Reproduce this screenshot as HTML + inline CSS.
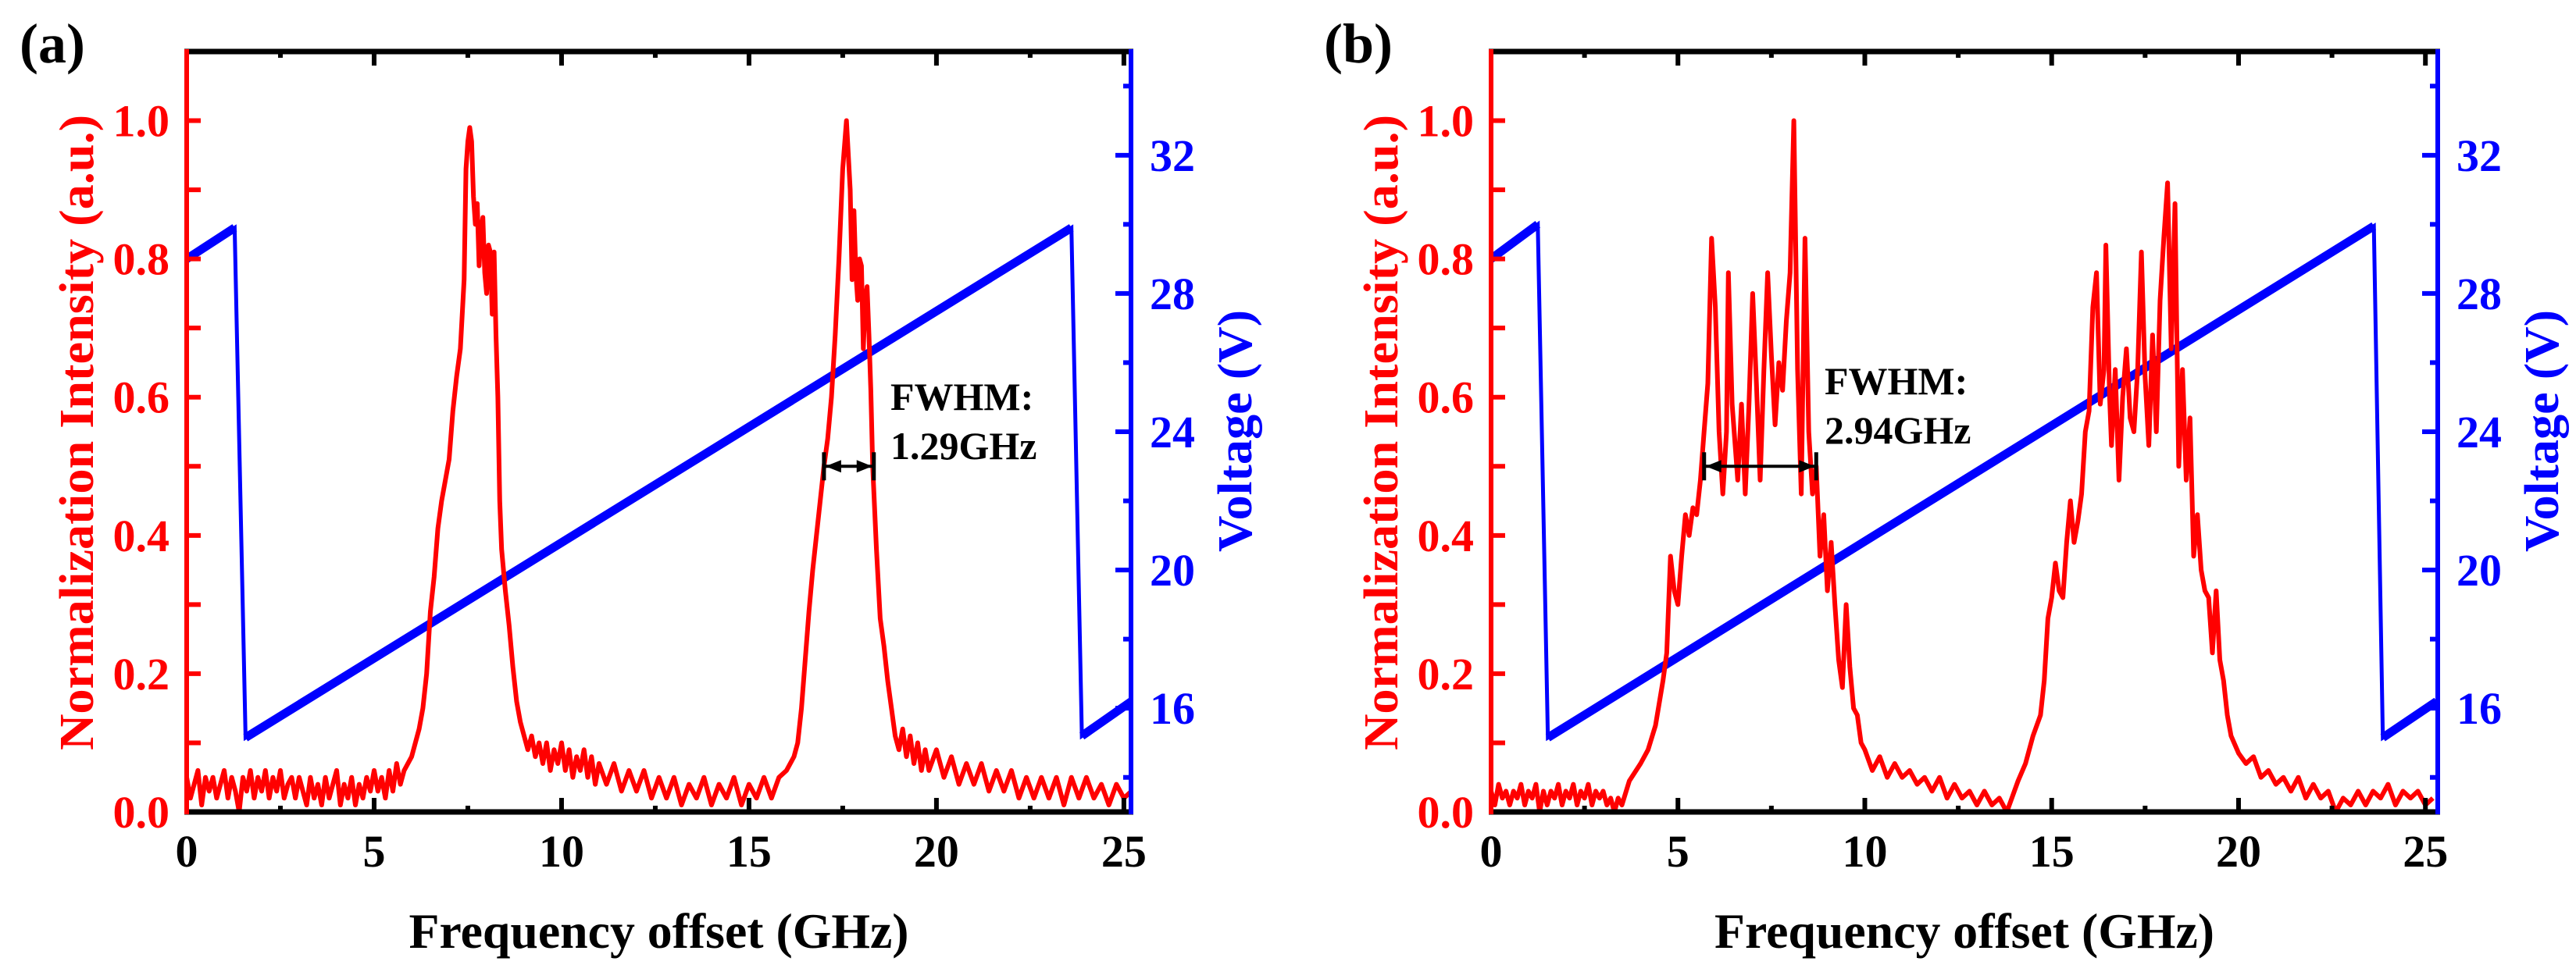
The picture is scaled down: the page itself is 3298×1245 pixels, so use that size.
<!DOCTYPE html>
<html><head><meta charset="utf-8">
<style>
html,body{margin:0;padding:0;background:#fff;}
svg{display:block;}
svg text{font-family:"Liberation Serif","Times New Roman",serif !important;font-weight:bold;}
</style></head>
<body>
<svg id="fig" width="3298" height="1245" viewBox="0 0 3298 1245" xmlns="http://www.w3.org/2000/svg" font-family="Liberation Serif, serif" font-weight="bold"></svg>
<script>
// ---------- data ----------
const xTicks = [0,5,10,15,20,25];
const xTickLabels = ["0","5","10","15","20","25"];
const yTicks = [0,0.2,0.4,0.6,0.8,1.0];
const yTickLabels = ["0.0","0.2","0.4","0.6","0.8","1.0"];
const vTicks = [16,20,24,28,32];
const vTickLabels = ["16","20","24","28","32"];

const freqA = [0,0.1,0.2,0.3,0.4,0.5,0.6,0.7,0.8,0.9,1.0,1.1,1.2,1.3,1.4,1.5,1.6,1.7,1.8,1.9,2.0,2.1,2.2,2.3,2.4,2.5,2.6,2.7,2.8,2.9,3.0,3.1,3.2,3.3,3.4,3.5,3.6,3.7,3.8,3.9,4.0,4.1,4.2,4.3,4.4,4.5,4.6,4.7,4.8,4.9,5.0,5.1,5.2,5.3,5.4,5.5,5.6,5.7,5.8,
6.0,6.2,6.3,6.4,6.5,6.6,6.7,6.8,6.9,7.0,7.1,7.2,7.3,7.4,7.45,7.5,7.55,7.6,7.65,7.7,7.75,7.8,7.85,7.9,7.95,8.0,8.05,8.1,8.15,8.2,8.25,8.3,8.35,8.4,8.5,8.6,8.7,8.8,8.9,9.0,9.1,9.2,9.3,9.4,9.5,9.6,9.7,9.8,9.9,10.0,10.1,10.2,10.3,10.4,10.5,10.6,10.7,10.8,10.9,11.0,11.2,11.4,11.6,11.8,12.0,12.2,12.4,12.6,12.8,13.0,13.2,13.4,13.6,13.8,14.0,14.2,14.4,14.6,14.8,15.0,15.2,15.4,15.6,15.8,16.0,16.2,16.3,16.4,16.5,16.6,16.7,16.8,16.9,17.0,17.1,17.2,17.3,17.4,17.5,17.6,17.65,17.7,17.75,17.8,17.85,17.9,17.95,18.0,18.05,18.1,18.15,18.2,18.25,18.3,18.4,18.5,18.6,18.7,18.8,18.9,19.0,19.1,19.2,19.3,19.4,19.5,19.6,19.7,19.8,20.0,20.2,20.4,20.6,20.8,21.0,21.2,21.4,21.6,21.8,22.0,22.2,22.4,22.6,22.8,23.0,23.2,23.4,23.6,23.8,24.0,24.2,24.4,24.6,24.8,25.0,25.2];
const intensityA = [0.05,0.02,0.04,0.06,0.01,0.05,0.03,0.05,0.02,0.04,0.06,0.02,0.05,0.03,0.00,0.05,0.03,0.06,0.02,0.05,0.03,0.06,0.02,0.05,0.03,0.06,0.02,0.04,0.05,0.02,0.05,0.03,0.01,0.05,0.02,0.04,0.01,0.05,0.02,0.04,0.06,0.01,0.04,0.02,0.05,0.01,0.04,0.02,0.05,0.03,0.06,0.03,0.05,0.02,0.06,0.03,0.07,0.04,0.06,
0.08,0.12,0.15,0.20,0.29,0.34,0.41,0.45,0.48,0.51,0.58,0.63,0.67,0.77,0.93,0.97,0.99,0.97,0.89,0.85,0.88,0.79,0.84,0.86,0.78,0.75,0.82,0.81,0.72,0.81,0.69,0.60,0.45,0.38,0.32,0.27,0.21,0.16,0.13,0.11,0.09,0.11,0.08,0.10,0.07,0.10,0.06,0.09,0.07,0.10,0.06,0.09,0.05,0.08,0.06,0.09,0.05,0.08,0.04,0.07,0.04,0.07,0.03,0.06,0.03,0.06,0.02,0.05,0.02,0.05,0.01,0.04,0.02,0.05,0.01,0.04,0.02,0.05,0.01,0.04,0.02,0.05,0.02,0.05,0.06,0.08,0.10,0.15,0.22,0.29,0.35,0.40,0.45,0.50,0.54,0.60,0.69,0.80,0.93,1.00,0.95,0.90,0.77,0.87,0.78,0.74,0.80,0.79,0.67,0.74,0.76,0.69,0.61,0.50,0.38,0.28,0.24,0.19,0.15,0.11,0.09,0.12,0.08,0.11,0.07,0.10,0.06,0.09,0.06,0.09,0.05,0.08,0.04,0.07,0.04,0.07,0.03,0.06,0.03,0.06,0.02,0.05,0.02,0.05,0.02,0.05,0.01,0.05,0.02,0.05,0.02,0.04,0.01,0.04,0.02,0.03];

const freqB = [0,0.1,0.2,0.3,0.4,0.5,0.6,0.7,0.8,0.9,1.0,1.1,1.2,1.3,1.4,1.5,1.6,1.7,1.8,1.9,2.0,2.1,2.2,2.3,2.4,2.5,2.6,2.7,2.8,2.9,3.0,3.1,3.2,3.3,3.4,3.5,
3.7,4.0,4.2,4.4,4.6,4.7,4.8,4.9,5.0,5.1,5.2,5.3,5.4,5.5,5.6,5.7,5.8,5.9,6.0,6.1,6.2,6.3,6.35,6.45,6.6,6.7,6.8,6.9,7.0,7.1,7.2,7.3,7.4,7.5,7.6,7.7,7.8,7.9,8.0,8.1,8.2,8.3,8.4,8.5,8.6,8.7,8.8,8.9,9.0,9.1,9.2,9.3,9.4,9.5,9.6,9.7,9.8,9.9,
10.0,10.2,10.4,10.6,10.8,11.0,11.2,11.4,11.6,11.8,12.0,12.2,12.4,12.6,12.8,13.0,13.2,13.4,13.6,13.8,
14.1,14.3,14.5,14.7,14.8,14.9,15.0,15.1,15.2,15.3,15.4,15.5,15.6,15.7,15.8,15.9,16.0,16.1,16.2,16.3,16.4,16.45,16.55,16.6,16.7,16.8,16.9,17.0,17.1,17.2,17.3,17.4,17.5,17.6,17.7,17.8,17.9,18.0,18.1,18.2,18.3,18.4,18.5,18.6,18.7,18.8,18.9,19.0,19.1,19.2,19.3,19.4,19.5,19.6,19.7,19.8,
20.0,20.2,20.4,20.6,20.8,21.0,21.2,21.4,21.6,21.8,22.0,22.2,22.4,22.6,22.8,23.0,23.2,23.4,23.6,23.8,24.0,24.2,24.4,24.6,24.8,25.0,25.2];
const intensityB = [0.03,0.01,0.04,0.02,0.03,0.01,0.03,0.02,0.04,0.01,0.03,0.02,0.04,0.00,0.03,0.01,0.03,0.02,0.04,0.01,0.03,0.02,0.04,0.01,0.03,0.02,0.04,0.01,0.03,0.02,0.03,0.01,0.02,0.00,0.02,0.01,
0.045,0.07,0.09,0.125,0.19,0.23,0.37,0.32,0.30,0.37,0.43,0.40,0.44,0.43,0.48,0.55,0.62,0.83,0.73,0.55,0.46,0.55,0.78,0.59,0.48,0.59,0.46,0.59,0.75,0.62,0.48,0.64,0.78,0.66,0.56,0.65,0.61,0.71,0.78,1.00,0.64,0.46,0.83,0.55,0.46,0.50,0.37,0.43,0.32,0.39,0.30,0.22,0.18,0.30,0.21,0.15,0.14,0.10,
0.09,0.06,0.08,0.05,0.07,0.05,0.06,0.04,0.05,0.03,0.05,0.02,0.04,0.02,0.03,0.01,0.03,0.01,0.02,0.00,
0.045,0.07,0.11,0.14,0.19,0.28,0.31,0.36,0.32,0.31,0.39,0.45,0.39,0.42,0.46,0.55,0.58,0.73,0.78,0.59,0.64,0.82,0.60,0.53,0.64,0.48,0.60,0.67,0.57,0.55,0.64,0.81,0.63,0.53,0.69,0.55,0.74,0.83,0.91,0.67,0.88,0.50,0.64,0.48,0.57,0.37,0.43,0.35,0.32,0.31,0.23,0.32,0.22,0.19,0.14,0.11,
0.085,0.07,0.08,0.05,0.06,0.04,0.05,0.03,0.05,0.02,0.04,0.02,0.03,0.00,0.02,0.01,0.03,0.01,0.03,0.02,0.04,0.01,0.03,0.02,0.03,0.01,0.02];

const voltFreqA = [0,1.28,1.57,23.6,23.88,25.2];
const voltA = [29.0,29.9,15.15,29.9,15.2,16.2];
const voltFreqB = [0,1.25,1.52,23.62,23.86,25.3];
const voltB = [29.0,30.0,15.15,29.95,15.15,16.2];

// ---------- drawing ----------
const NS = "http://www.w3.org/2000/svg";
const svg = document.getElementById('fig');
const FONT = "'Liberation Serif', 'Times New Roman', serif";
function mk(tag, attrs, parent){
  const e = document.createElementNS(NS, tag);
  for (const k in attrs) e.setAttribute(k, attrs[k]);
  if (tag === 'text') { e.setAttribute('font-family', FONT); e.setAttribute('font-weight', 'bold'); }
  (parent||svg).appendChild(e);
  return e;
}
const TOP = 66, BOT = 1040;
const YMAX = 1.1, VMIN = 13, VMAX = 35;

function drawPanel(id, L, R, xmax, freq, inten, vf, vv, label, fwhm){
  const g = mk('g', {});
  
  
  const sx = f => L + f / xmax * (R - L);
  const sy = v => BOT - v / YMAX * (BOT - TOP);
  const sv = v => BOT - (v - VMIN) / (VMAX - VMIN) * (BOT - TOP);

  const cid = 'clip-' + id;
  const cp = mk('clipPath', {id: cid}, g);
  mk('rect', {x: L, y: TOP, width: R - L, height: BOT - TOP}, cp);

  // blue voltage
  const vPts = vf.map((f, i) => sx(f).toFixed(1) + ',' + sv(vv[i]).toFixed(1)).join(' ');
  const vl = mk('polyline', {points: vPts, fill: 'none', stroke: '#0000ff', 'stroke-width': 5, 'clip-path': 'url(#' + cid + ')'}, g);
  
  
  for (let i = 0; i < vf.length - 1; i++) {
    if (vv[i + 1] > vv[i]) {
      const seg = mk('line', {x1: sx(vf[i]), y1: sv(vv[i]), x2: sx(vf[i + 1]), y2: sv(vv[i + 1]), stroke: '#0000ff', 'stroke-width': 11, 'clip-path': 'url(#' + cid + ')'}, g);
      
      
    }
  }
  // red intensity
  const rPts = freq.map((f, i) => sx(f).toFixed(1) + ',' + sy(inten[i]).toFixed(1)).join(' ');
  const rl = mk('polyline', {points: rPts, fill: 'none', stroke: '#ff0000', 'stroke-width': 6, 'stroke-linejoin': 'round', 'clip-path': 'url(#' + cid + ')'}, g);
  
  

  // ticks x
  for (let f = 0; f <= xmax + 0.01; f += 2.5) {
    const major = Math.abs(f / 5 - Math.round(f / 5)) < 1e-6;
    const len = major ? 18 : 8;
    mk('line', {x1: sx(f), y1: BOT, x2: sx(f), y2: BOT - len, stroke: '#000', 'stroke-width': 6}, g);
    mk('line', {x1: sx(f), y1: TOP, x2: sx(f), y2: TOP + len, stroke: '#000', 'stroke-width': 6}, g);
  }
  xTicks.forEach((t, i) => {
    const tx = mk('text', {x: sx(t), y: 1110, 'font-size': 58, 'text-anchor': 'middle', fill: '#000'}, g);
    tx.textContent = xTickLabels[i];
    
    
  });
  // left ticks
  for (let v = 0; v <= 1.1001; v += 0.1) {
    mk('line', {x1: L, y1: sy(v), x2: L + 18, y2: sy(v), stroke: '#ff0000', 'stroke-width': 6}, g);
  }
  yTicks.forEach((t, i) => {
    const tx = mk('text', {x: L - 22, y: sy(t) + 20, 'font-size': 58, 'text-anchor': 'end', fill: '#ff0000'}, g);
    tx.textContent = yTickLabels[i];
    
    
  });
  // right ticks
  for (let v = 14; v <= 34; v += 2) {
    const major = v % 4 === 0;
    mk('line', {x1: R, y1: sv(v), x2: R - (major ? 20 : 10), y2: sv(v), stroke: '#0000ff', 'stroke-width': 6}, g);
  }
  vTicks.forEach((t, i) => {
    const tx = mk('text', {x: R + 24, y: sv(t) + 20, 'font-size': 58, 'text-anchor': 'start', fill: '#0000ff'}, g);
    tx.textContent = vTickLabels[i];
    
    
  });
  // spines
  mk('line', {x1: L - 3, y1: TOP, x2: R + 3, y2: TOP, stroke: '#000', 'stroke-width': 7}, g);
  mk('line', {x1: L - 3, y1: BOT, x2: R + 3, y2: BOT, stroke: '#000', 'stroke-width': 7}, g);
  const ls = mk('line', {x1: L, y1: TOP - 3, x2: L, y2: BOT + 3, stroke: '#ff0000', 'stroke-width': 6}, g);
  
  
  const rs = mk('line', {x1: R, y1: TOP - 3, x2: R, y2: BOT + 3, stroke: '#0000ff', 'stroke-width': 6}, g);
  
  

  // titles
  const cx = (L + R) / 2;
  const xt = mk('text', {x: cx, y: 1214, 'font-size': 64, 'text-anchor': 'middle', fill: '#000', textLength: 640, lengthAdjust: 'spacingAndGlyphs'}, g);
  xt.textContent = 'Frequency offset (GHz)';
  
  
  const ylx = L - 141;
  const yt = mk('text', {x: 0, y: 0, 'font-size': 62, 'text-anchor': 'middle', fill: '#ff0000', textLength: 814, lengthAdjust: 'spacingAndGlyphs', transform: 'translate(' + (ylx + 21) + ',554) rotate(-90)'}, g);
  yt.textContent = 'Normalization Intensity (a.u.)';
  
  
  const yrx = R + 133;
  const yr = mk('text', {x: 0, y: 0, 'font-size': 62, 'text-anchor': 'middle', fill: '#0000ff', textLength: 310, lengthAdjust: 'spacingAndGlyphs', transform: 'translate(' + (yrx + 21) + ',552) rotate(-90)'}, g);
  yr.textContent = 'Voltage (V)';
  
  

  // panel label
  const pl = mk('text', {x: L - 214, y: 80, 'font-size': 72, fill: '#000'}, g);
  pl.textContent = label;
  
  

  // FWHM annotation
  const ay = sy(0.5);
  const x1 = sx(fwhm.from), x2 = sx(fwhm.to);
  const ag = mk('g', {stroke: '#000', 'stroke-width': 4, fill: '#000'}, g);
  
  
  mk('line', {x1: x1, y1: ay, x2: x2, y2: ay}, ag);
  mk('line', {x1: x1, y1: ay - 18, x2: x1, y2: ay + 18, 'stroke-width': 5}, ag);
  mk('line', {x1: x2, y1: ay - 18, x2: x2, y2: ay + 18, 'stroke-width': 5}, ag);
  mk('polygon', {points: (x1+2)+','+ay+' '+(x1+22)+','+(ay-8)+' '+(x1+22)+','+(ay+8), stroke: 'none'}, ag);
  mk('polygon', {points: (x2-2)+','+ay+' '+(x2-22)+','+(ay-8)+' '+(x2-22)+','+(ay+8), stroke: 'none'}, ag);
  const t1 = mk('text', {x: fwhm.tx, y: fwhm.ty, 'font-size': 50, fill: '#000'}, g);
  t1.textContent = 'FWHM:';
  
  
  const t2 = mk('text', {x: fwhm.tx, y: fwhm.ty + 63, 'font-size': 50, fill: '#000'}, g);
  t2.textContent = fwhm.val;
  
  
}

drawPanel('a', 239, 1448, 25.19, freqA, intensityA, voltFreqA, voltA, '(a)',
  {from: 17.0, to: 18.33, tx: 1140, ty: 525, val: '1.29GHz'});
drawPanel('b', 1909, 3121, 25.33, freqB, intensityB, voltFreqB, voltB, '(b)',
  {from: 5.7, to: 8.7, tx: 2336, ty: 505, val: '2.94GHz'});
</script>
</body></html>
